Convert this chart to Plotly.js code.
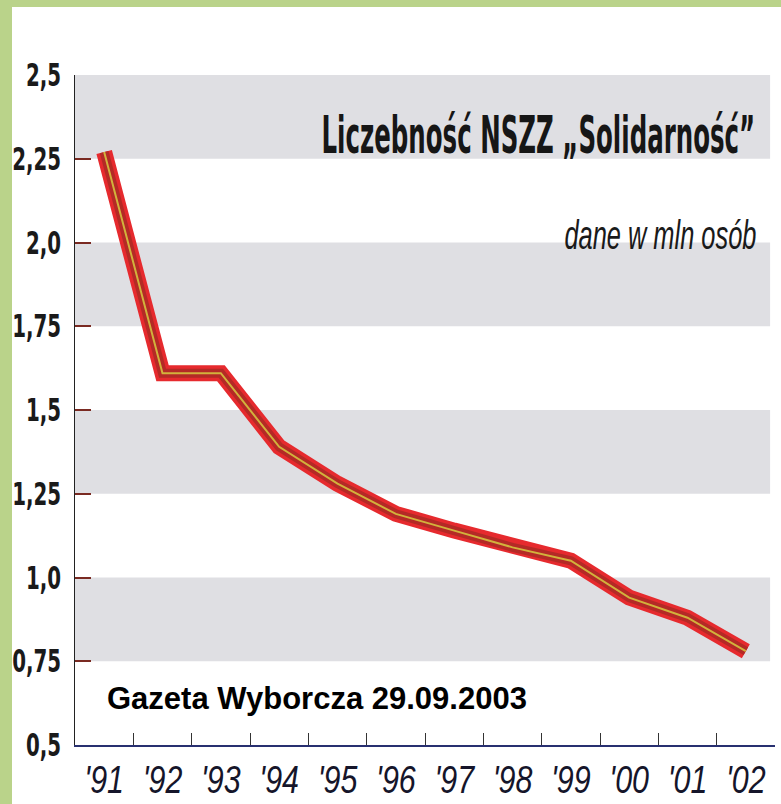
<!DOCTYPE html>
<html>
<head>
<meta charset="utf-8">
<script src="https://cdn.plot.ly/plotly-3.0.1.min.js"></script>
<style>
html,body{margin:0;padding:0;background:#bad38a;width:781px;height:804px;overflow:hidden;}
#chart{position:absolute;left:12px;top:7px;width:769px;height:797px;background:#fff;}
</style>
</head>
<body>
<div id="chart"></div>
<script>
const years = ["'91","'92","'93","'94","'95","'96","'97","'98","'99","'00","'01","'02"];
const members = [2.27, 1.61, 1.61, 1.39, 1.28, 1.19, 1.14, 1.09, 1.05, 0.94, 0.88, 0.78];
const yTickVals = [0.5, 0.75, 1.0, 1.25, 1.5, 1.75, 2.0, 2.25, 2.5];
const yTickText = ["0,5", "0,75", "1,0", "1,25", "1,5", "1,75", "2,0", "2,25", "2,5"];
const bandRanges = [[0.75, 1.0], [1.25, 1.5], [1.75, 2.0], [2.25, 2.5]];
const titleText = "Liczebność NSZZ „Solidarność”";
const subtitleText = "dane w mln osób";
const sourceText = "Gazeta Wyborcza 29.09.2003";

const sans = "Liberation Sans, Arial, sans-serif";

function lineTrace(width, color) {
  return {x: years, y: members, type: 'scatter', mode: 'lines',
    line: {width: width, color: color, shape: 'linear'}, hoverinfo: 'skip', showlegend: false};
}
const traces = [
  lineTrace(16, '#e62a2e'),
  lineTrace(9, '#b42a26'),
  lineTrace(2, '#d2b23c')
];

const shapes = bandRanges.map(r => ({
  type: 'rect', layer: 'below', xref: 'paper', yref: 'y',
  x0: 0, x1: 0.993, y0: r[0], y1: r[1],
  fillcolor: '#dfdfe3', line: {width: 0}
}));

const layout = {
  width: 769, height: 797,
  margin: {l: 63, r: 6, t: 68, b: 59},
  paper_bgcolor: '#ffffff', plot_bgcolor: 'rgba(0,0,0,0)',
  showlegend: false,
  xaxis: {
    type: 'category', range: [-0.5, 11.5], tickson: 'boundaries',
    ticks: 'inside', ticklen: 12, tickcolor: '#333', tickwidth: 1,
    showline: true, linecolor: '#283070', linewidth: 2,
    showgrid: false, zeroline: false, tickangle: 0, ticklabelstandoff: 0,
    tickfont: {family: sans, size: 38, style: 'italic', color: '#15152a'}
  },
  yaxis: {
    range: [0.5, 2.5], tickvals: yTickVals, ticktext: yTickText,
    ticks: 'inside', ticklen: 16, tickcolor: '#7a2a22', tickwidth: 2,
    showline: true, linecolor: '#222', linewidth: 1.5,
    showgrid: false, zeroline: false, ticklabelstandoff: 6,
    tickfont: {family: 'DejaVu Sans, sans-serif', size: 32, weight: 'bold', color: '#1a1a1a'}
  },
  shapes: shapes,
  annotations: [
    {text: titleText, xref: 'paper', yref: 'paper', x: 0.974, y: 0.910,
     xanchor: 'right', yanchor: 'middle', showarrow: false,
     font: {family: 'DejaVu Sans, sans-serif', size: 52, weight: 'bold', color: '#161616'}},
    {text: subtitleText, xref: 'paper', yref: 'paper', x: 0.976, y: 0.761,
     xanchor: 'right', yanchor: 'middle', showarrow: false,
     font: {family: sans, size: 40, style: 'italic', color: '#1a1a1a'}},
    {text: sourceText, xref: 'paper', yref: 'paper', x: 0.043, y: 0.069,
     xanchor: 'left', yanchor: 'middle', showarrow: false,
     font: {family: sans, size: 31, weight: 'bold', color: '#000'}}
  ]
};

// horizontally condense a text element around an anchor point (newspaper condensed type)
function squeeze(el, s, anchor) {
  const b = el.getBBox();
  const ax = anchor === 'end' ? b.x + b.width : anchor === 'middle' ? b.x + b.width / 2 : b.x;
  const t = el.getAttribute('transform') || '';
  el.setAttribute('transform', t + ' translate(' + ax + ',0) scale(' + s + ',1) translate(' + (-ax) + ',0)');
}

Plotly.newPlot('chart', traces, layout, {displayModeBar: false, staticPlot: true}).then(gd => {
  gd.querySelectorAll('.xtick text').forEach(el => squeeze(el, 0.8, 'middle'));
  gd.querySelectorAll('.ytick text').forEach(el => squeeze(el, 0.62, 'end'));
  const anns = gd.querySelectorAll('.annotation-text');
  if (anns[0]) { squeeze(anns[0], 434 / anns[0].getBBox().width, 'end'); }
  if (anns[1]) { squeeze(anns[1], 192 / anns[1].getBBox().width, 'end'); }
});
</script>
</body>
</html>
